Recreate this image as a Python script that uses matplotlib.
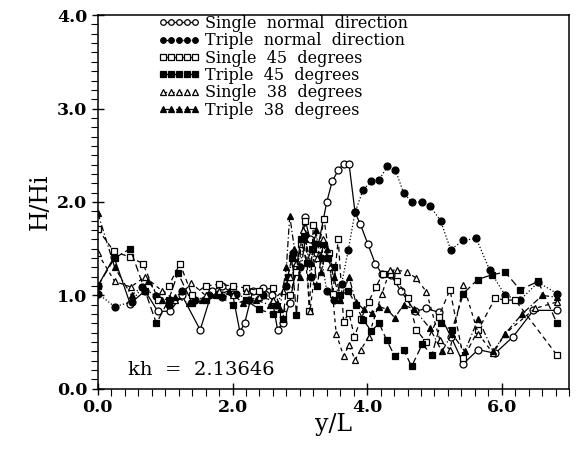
import matplotlib
matplotlib.use('Agg')
import matplotlib.pyplot as plt
from matplotlib.ticker import MultipleLocator

# %% data

# single, normal direction
sn_x = [0.00, 0.24, 0.48, 0.70, 0.89, 1.07, 1.25, 1.52, 1.70, 1.85, 2.00, 2.11, 2.18, 2.30, 2.45,
        2.58, 2.67, 2.75, 2.85, 2.95, 3.07, 3.15, 3.25, 3.40, 3.48, 3.57, 3.65, 3.73, 3.82, 3.90,
        4.01, 4.12, 4.22, 4.35, 4.50, 4.71, 4.88, 5.06, 5.25, 5.43, 5.65, 5.90, 6.17, 6.47, 6.82]
sn_y = [1.10, 1.41, 0.91, 1.05, 0.83, 0.83, 1.00, 0.63, 1.05, 1.10, 1.02, 0.61, 0.70, 1.05, 1.08,
        1.00, 0.63, 0.71, 0.92, 1.30, 1.84, 1.60, 1.45, 2.00, 2.22, 2.34, 2.41, 2.41, 1.89, 1.76,
        1.55, 1.34, 1.23, 1.22, 1.05, 0.83, 0.86, 0.82, 0.55, 0.27, 0.42, 0.38, 0.56, 0.84, 0.84]

# triple, normal direction
tn_x = [0.00, 0.25, 0.50, 0.66, 0.87, 1.05, 1.25, 1.45, 1.65, 1.85, 2.05, 2.25, 2.45, 2.65, 2.80,
        2.90, 3.00, 3.08, 3.16, 3.24, 3.32, 3.40, 3.50, 3.62, 3.72, 3.82, 3.94, 4.06, 4.18, 4.30,
        4.42, 4.54, 4.66, 4.81, 4.93, 5.09, 5.24, 5.43, 5.62, 5.82, 6.05, 6.27, 6.54, 6.82]
tn_y = [1.02, 0.88, 0.93, 1.09, 0.99, 0.90, 1.05, 0.95, 1.00, 0.98, 1.02, 0.95, 1.00, 0.90, 1.10,
        1.45, 1.30, 1.65, 1.20, 1.55, 1.40, 1.05, 0.95, 1.12, 1.49, 1.89, 2.13, 2.22, 2.24, 2.38,
        2.34, 2.10, 2.00, 2.00, 1.96, 1.80, 1.49, 1.59, 1.61, 1.27, 1.00, 0.95, 1.14, 1.02]

# single, 45 degrees
s45_x = [0.00, 0.24, 0.48, 0.67, 0.90, 1.05, 1.22, 1.40, 1.60, 1.80, 2.00, 2.20, 2.40, 2.60, 2.75,
         2.85, 2.95, 3.02, 3.08, 3.14, 3.20, 3.28, 3.36, 3.43, 3.49, 3.57, 3.65, 3.73, 3.81, 3.91,
         4.02, 4.13, 4.23, 4.34, 4.45, 4.61, 4.73, 4.88, 5.06, 5.23, 5.43, 5.65, 5.90, 6.05, 6.20,
         6.82]
s45_y = [1.71, 1.47, 1.41, 1.34, 0.95, 1.10, 1.34, 1.00, 1.10, 1.12, 1.10, 1.08, 1.05, 1.08, 0.80,
         1.00, 1.25, 1.55, 1.80, 0.83, 1.75, 1.50, 1.82, 1.45, 1.02, 1.60, 0.72, 0.81, 0.56, 0.75,
         0.93, 1.09, 1.23, 1.23, 1.15, 0.97, 0.63, 0.50, 0.77, 1.06, 0.33, 0.63, 0.97, 0.95, 0.95,
         0.36]

# triple, 45 degrees
t45_x = [0.00, 0.25, 0.48, 0.70, 0.87, 1.05, 1.19, 1.40, 1.60, 1.80, 2.00, 2.20, 2.40, 2.60, 2.75,
         2.82, 2.88, 2.95, 3.02, 3.10, 3.18, 3.26, 3.34, 3.42, 3.50, 3.60, 3.72, 3.83, 3.94, 4.06,
         4.18, 4.29, 4.41, 4.54, 4.66, 4.82, 4.96, 5.09, 5.26, 5.43, 5.64, 5.85, 6.05, 6.27, 6.54,
         6.82]
t45_y = [1.10, 1.40, 1.50, 1.05, 0.70, 0.95, 1.24, 0.92, 0.95, 1.00, 0.90, 0.95, 0.85, 0.80, 0.75,
         1.20, 1.40, 0.79, 1.60, 1.35, 1.50, 1.10, 1.55, 1.40, 1.30, 1.00, 1.05, 0.90, 0.74, 0.62,
         0.70, 0.52, 0.35, 0.42, 0.24, 0.48, 0.36, 0.70, 0.63, 1.02, 1.17, 1.22, 1.25, 1.06, 1.15,
         0.70]

# single, 38 degrees
s38_x = [0.00, 0.25, 0.49, 0.70, 0.95, 1.15, 1.39, 1.60, 1.80, 2.00, 2.20, 2.40, 2.60, 2.75, 2.85,
         2.95, 3.05, 3.15, 3.25, 3.35, 3.45, 3.54, 3.65, 3.73, 3.82, 3.91, 4.02, 4.22, 4.34, 4.45,
         4.59, 4.72, 4.88, 5.08, 5.23, 5.43, 5.65, 5.87, 6.05, 6.49, 6.82]
s38_y = [1.45, 1.15, 1.09, 1.20, 1.05, 0.95, 1.13, 1.00, 1.05, 1.00, 1.05, 0.98, 0.95, 1.05, 1.20,
         1.35, 1.70, 0.83, 1.40, 1.60, 1.30, 0.59, 0.35, 0.47, 0.31, 0.42, 0.56, 1.02, 1.27, 1.27,
         1.25, 1.19, 1.04, 0.52, 0.42, 1.11, 0.59, 0.38, 0.59, 0.86, 0.93]

# triple, 38 degrees
t38_x = [0.00, 0.25, 0.50, 0.75, 0.95, 1.15, 1.35, 1.55, 1.75, 1.95, 2.15, 2.35, 2.55, 2.70, 2.80,
         2.85, 2.92, 3.00, 3.08, 3.16, 3.24, 3.32, 3.40, 3.50, 3.60, 3.73, 3.83, 3.95, 4.07, 4.18,
         4.30, 4.41, 4.54, 4.70, 4.93, 5.11, 5.26, 5.45, 5.65, 5.87, 6.05, 6.30, 6.60, 6.82]
t38_y = [1.88, 1.30, 1.00, 1.15, 0.95, 0.98, 0.92, 0.95, 1.00, 1.05, 0.92, 0.95, 0.90, 0.85, 1.30,
         1.85, 1.50, 1.20, 1.60, 1.35, 1.70, 1.25, 1.50, 1.20, 0.95, 1.20, 0.93, 0.85, 0.81, 0.88,
         0.85, 0.76, 0.90, 0.85, 0.65, 0.40, 0.59, 0.40, 0.75, 0.40, 0.59, 0.80, 1.00, 0.98]

labels = ['Single  normal  direction', 'Triple  normal  direction',
          'Single  45  degrees', 'Triple  45  degrees',
          'Single  38  degrees', 'Triple  38  degrees']

# %% plot

plt.rcParams['font.family'] = 'DejaVu Serif'

fig = plt.figure(figsize=(5.79, 4.58), dpi=100)
ax = fig.add_axes([0.169, 0.151, 0.814, 0.816])

series = [
    (sn_x, sn_y, 'o', 'white', '-'),
    (tn_x, tn_y, 'o', 'black', ':'),
    (s45_x, s45_y, 's', 'white', (0, (4, 3))),
    (t45_x, t45_y, 's', 'black', (0, (6, 3))),
    (s38_x, s38_y, '^', 'white', (0, (3, 3))),
    (t38_x, t38_y, '^', 'black', (0, (5, 2, 1, 2))),
]
for (x, y, mk, fc, ls), lab in zip(series, labels):
    ax.plot(x, y, marker=mk, mfc=fc, mec='black', color='black', ls=ls,
            lw=0.9, ms=5, mew=0.9, label=lab)

ax.set_xlim(0, 7.0)
ax.set_ylim(0, 4.0)
ax.xaxis.set_major_locator(MultipleLocator(2.0))
ax.xaxis.set_minor_locator(MultipleLocator(0.2))
ax.yaxis.set_major_locator(MultipleLocator(1.0))
ax.yaxis.set_minor_locator(MultipleLocator(0.1))
ax.xaxis.set_major_formatter(lambda v, p: f'{v:.1f}')
ax.yaxis.set_major_formatter(lambda v, p: f'{v:.1f}')
ax.tick_params(which='major', direction='inout', length=9, width=1.0,
               labelsize=12.5, pad=3)
ax.tick_params(which='minor', direction='out', length=5, width=0.8)
for lab in ax.get_xticklabels() + ax.get_yticklabels():
    lab.set_fontweight('bold')
for s in ax.spines.values():
    s.set_linewidth(1.1)

ax.set_xlabel('y/L', fontsize=17, labelpad=-2)
ax.set_ylabel('H/Hi', fontsize=17, labelpad=4)

ax.text(0.45, 0.2, 'kh  =  2.13646', fontsize=14, va='center', ha='left')

ax.legend(loc='upper left', bbox_to_anchor=(0.105, 1.03), frameon=False,
          numpoints=5, handlelength=2.6, handletextpad=0.3, labelspacing=0.02,
          fontsize=11.5, markerscale=0.8, borderpad=0.2)

fig.savefig('out.png', dpi=100, facecolor='white')
